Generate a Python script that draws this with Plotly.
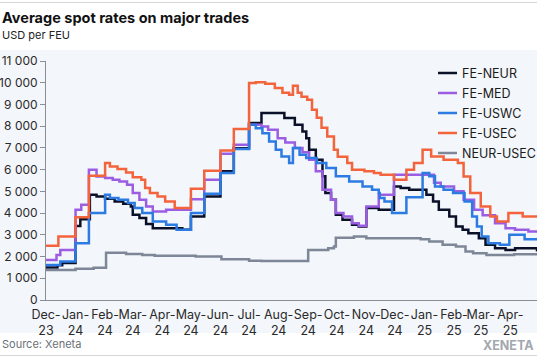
import plotly.graph_objects as go

# ---------------- data ----------------
neur_dates = ["2023-12-01", "2023-12-13", "2023-12-18", "2024-01-01", "2024-01-06", "2024-01-16", "2024-01-23",
              "2024-02-01", "2024-02-11", "2024-02-20", "2024-02-28", "2024-03-01", "2024-03-08", "2024-03-15",
              "2024-03-22", "2024-04-22", "2024-05-01", "2024-05-15", "2024-06-01", "2024-06-15", "2024-07-01",
              "2024-07-14", "2024-07-28", "2024-08-07", "2024-08-18", "2024-08-26", "2024-08-30", "2024-09-02",
              "2024-09-09", "2024-09-16", "2024-09-19", "2024-09-25", "2024-09-30", "2024-10-07", "2024-10-17",
              "2024-10-24", "2024-11-01", "2024-11-14", "2024-11-30", "2024-12-07", "2024-12-16", "2025-01-03",
              "2025-01-10", "2025-01-16", "2025-01-27", "2025-02-03", "2025-02-10", "2025-02-16", "2025-02-27",
              "2025-03-06", "2025-03-16", "2025-03-27", "2025-04-06", "2025-04-20", "2025-04-29"]
neur_vals = [1500, 1600, 1700, 3410, 3720, 4840, 4760,
             4660, 4530, 4430, 4300, 3920, 3770, 3500,
             3300, 3230, 3840, 4760, 5920, 6990, 8150,
             8610, 8610, 8380, 8070, 7760, 7450, 6920,
             6450, 5690, 4920, 4610, 3920, 3690, 3460,
             3380, 4230, 4150, 5220, 5150, 5070, 4840,
             4530, 4150, 3840, 3380, 3230, 3070, 2840,
             2540, 2380, 2300, 2380, 2380, 2230]

med_dates = ["2023-12-01", "2023-12-12", "2023-12-16", "2024-01-01", "2024-01-07", "2024-01-15", "2024-01-23",
             "2024-02-01", "2024-02-09", "2024-02-16", "2024-02-24", "2024-03-01", "2024-03-08", "2024-03-15",
             "2024-03-22", "2024-04-05", "2024-05-01", "2024-05-15", "2024-06-01", "2024-06-15", "2024-07-01",
             "2024-07-14", "2024-07-21", "2024-07-31", "2024-08-08", "2024-08-18", "2024-08-26", "2024-09-02",
             "2024-09-09", "2024-09-16", "2024-09-25", "2024-09-30", "2024-10-08", "2024-10-17", "2024-10-24",
             "2024-11-01", "2024-11-14", "2024-11-30", "2025-01-11", "2025-01-18", "2025-02-01", "2025-02-11",
             "2025-02-22", "2025-03-03", "2025-03-16", "2025-03-27", "2025-04-06", "2025-04-20", "2025-04-29"]
med_vals = [1840, 2070, 2300, 4150, 4380, 5990, 5680,
            5610, 5530, 5450, 5300, 4920, 4610, 4300,
            4070, 4150, 4640, 5530, 6730, 7145, 8070,
            7990, 7840, 7450, 7250, 7000, 6800, 6450,
            5920, 5070, 4610, 4000, 3840, 3530, 3420,
            4300, 4840, 5760, 5400, 5220, 5000, 4610,
            4150, 3900, 3530, 3300, 3230, 3150, 3150]

uswc_dates = ["2023-12-01", "2023-12-16", "2024-01-01", "2024-01-15", "2024-02-01", "2024-02-06", "2024-02-15",
              "2024-02-25", "2024-03-03", "2024-03-11", "2024-03-22", "2024-04-05", "2024-04-16", "2024-05-01",
              "2024-05-15", "2024-06-01", "2024-06-15", "2024-07-01", "2024-07-08", "2024-07-15", "2024-07-22",
              "2024-07-29", "2024-08-04", "2024-08-12", "2024-08-16", "2024-08-23", "2024-08-30", "2024-09-10",
              "2024-09-20", "2024-09-30", "2024-10-14", "2024-10-28", "2024-11-07", "2024-11-14", "2024-11-15",
              "2024-11-20", "2024-11-28", "2024-12-13", "2024-12-30", "2025-01-06", "2025-01-12", "2025-01-21",
              "2025-01-31", "2025-02-12", "2025-02-20", "2025-02-25", "2025-03-02", "2025-03-09", "2025-03-21",
              "2025-03-31", "2025-04-16", "2025-04-29"]
uswc_vals = [1610, 1770, 2610, 4000, 4840, 4690, 4610,
             4460, 4230, 4000, 3610, 3460, 3230, 4000,
             4890, 5840, 6950, 8070, 7910, 7680, 7300,
             6920, 6600, 6300, 7000, 6680, 6530, 6300,
             6070, 5690, 5450, 5220, 5070, 4920, 4690,
             4530, 4000, 4730, 5840, 5690, 5220, 5070,
             4920, 4530, 3840, 3380, 2920, 2610, 2540,
             3000, 2800, 2800]

usec_dates = ["2023-12-01", "2023-12-14", "2024-01-01", "2024-01-15", "2024-02-01", "2024-02-06", "2024-02-14",
              "2024-02-23", "2024-03-01", "2024-03-10", "2024-03-14", "2024-03-19", "2024-03-27", "2024-04-04",
              "2024-04-14", "2024-05-01", "2024-05-15", "2024-06-01", "2024-06-15", "2024-07-01", "2024-07-08",
              "2024-07-18", "2024-07-28", "2024-08-05", "2024-08-12", "2024-08-16", "2024-08-21", "2024-08-25",
              "2024-08-31", "2024-09-05", "2024-09-10", "2024-09-15", "2024-09-21", "2024-09-28", "2024-10-02",
              "2024-10-12", "2024-10-17", "2024-10-30", "2024-11-09", "2024-11-16", "2024-11-30", "2024-12-13",
              "2024-12-21", "2024-12-30", "2025-01-08", "2025-01-21", "2025-02-05", "2025-02-11", "2025-02-18",
              "2025-03-01", "2025-03-11", "2025-03-18", "2025-03-30", "2025-04-14", "2025-04-29"]
usec_vals = [2500, 2920, 3810, 5720, 6300, 6150, 6030,
             5870, 5650, 5530, 5150, 4920, 4760, 4530,
             4230, 5120, 5950, 6880, 7870, 9990, 10020,
             9950, 9760, 9540, 9450, 9860, 9540, 9360,
             9220, 8760, 8390, 7930, 7530, 6920, 6590,
             6300, 5990, 5920, 5840, 5760, 5530, 5990,
             6300, 6920, 6600, 6450, 6300, 5680, 4920,
             4300, 3840, 3610, 4000, 3840, 3840]

neurusec_dates = ["2023-12-01", "2024-01-01", "2024-01-20", "2024-02-02", "2024-02-23", "2024-03-11", "2024-03-24",
                  "2024-05-06", "2024-06-02", "2024-07-01", "2024-07-14", "2024-09-01", "2024-09-22", "2024-09-28",
                  "2024-09-30", "2024-10-19", "2024-11-01", "2024-12-28", "2025-01-06", "2025-01-20", "2025-02-03",
                  "2025-02-13", "2025-02-21", "2025-03-07", "2025-04-05", "2025-04-29"]
neurusec_vals = [1380, 1440, 1480, 2180, 2120, 2070, 2040,
                 2000, 1880, 1810, 1790, 2300, 2380, 2460,
                 2870, 2920, 2840, 2800, 2690, 2540, 2460,
                 2230, 2150, 2070, 2100, 2150]

series_names = ["FE-NEUR", "FE-MED", "FE-USWC", "FE-USEC", "NEUR-USEC"]
series_colors = ["#0b1029", "#9b5ee3", "#2b7be2", "#f4643c", "#7e8798"]

month_ticks = ["2023-12-01", "2024-01-01", "2024-02-01", "2024-03-01", "2024-04-01", "2024-05-01",
               "2024-06-01", "2024-07-01", "2024-08-01", "2024-09-01", "2024-10-01", "2024-11-01",
               "2024-12-01", "2025-01-01", "2025-02-01", "2025-03-01", "2025-04-01"]
month_labels = ["Dec-<br>23", "Jan-<br>24", "Feb-<br>24", "Mar-<br>24", "Apr-<br>24", "May-<br>24",
                "Jun-<br>24", "Jul-<br>24", "Aug-<br>24", "Sep-<br>24", "Oct-<br>24", "Nov-<br>24",
                "Dec-<br>24", "Jan-<br>25", "Feb-<br>25", "Mar-<br>25", "Apr-<br>25"]

# ---------------- figure ----------------
W, H = 537, 360
ML, MR, MT, MB = 46, 0, 61, 60
PW, PH = W - ML - MR, H - MT - MB


def px_x(px):
    return (px - ML) / PW


def px_y(py):
    return (H - MB - py) / PH


FONT = "Inter, Lato, sans-serif"

fig = go.Figure()
series = [(neur_dates, neur_vals), (med_dates, med_vals), (uswc_dates, uswc_vals),
          (usec_dates, usec_vals), (neurusec_dates, neurusec_vals)]
for (xs, ys), name, color in zip(series, series_names, series_colors):
    fig.add_trace(go.Scatter(x=xs, y=ys, mode="lines", name=name, showlegend=False,
                             line=dict(color=color, width=2.5, shape="hv")))

shapes = [
    dict(type="rect", xref="paper", yref="paper", x0=px_x(0), x1=px_x(W), y0=px_y(0), y1=px_y(50),
         fillcolor="white", line=dict(width=0), layer="below"),
    dict(type="rect", xref="paper", yref="paper", x0=px_x(0), x1=px_x(W), y0=px_y(333), y1=px_y(H),
         fillcolor="white", line=dict(width=0), layer="below"),
    dict(type="line", xref="paper", yref="paper", x0=px_x(0), x1=px_x(W), y0=px_y(2.5), y1=px_y(2.5),
         line=dict(color="#d4d6da", width=1), layer="below"),
    dict(type="line", xref="paper", yref="paper", x0=px_x(0), x1=px_x(W), y0=px_y(355.5), y1=px_y(355.5),
         line=dict(color="#d4d6da", width=1), layer="below"),
]

annotations = [
    dict(text="<b>Average spot rates on major trades</b>", xref="paper", yref="paper",
         x=px_x(0), y=px_y(18), xanchor="left", yanchor="middle", showarrow=False,
         font=dict(family=FONT, size=14.5, color="#111111")),
    dict(text="USD per FEU", xref="paper", yref="paper",
         x=px_x(0), y=px_y(35), xanchor="left", yanchor="middle", showarrow=False,
         font=dict(family=FONT, size=11, color="#222222")),
    dict(text="Source: Xeneta", xref="paper", yref="paper",
         x=px_x(0), y=px_y(344), xanchor="left", yanchor="middle", showarrow=False,
         font=dict(family=FONT, size=11, color="#6b6f78")),
    dict(text="<b>XENETA</b>", xref="paper", yref="paper",
         x=px_x(536), y=px_y(345), xanchor="right", yanchor="middle", showarrow=False,
         font=dict(family=FONT, size=12.5, color="#a3a7ae")),
]

# legend (drawn by hand to match the short line samples)
for i, (name, color) in enumerate(zip(series_names, series_colors)):
    yy = 73 + i * 20
    shapes.append(dict(type="line", xref="paper", yref="paper", x0=px_x(438), x1=px_x(457),
                       y0=px_y(yy), y1=px_y(yy), line=dict(color=color, width=2.5)))
    annotations.append(dict(text=name, xref="paper", yref="paper", x=px_x(460), y=px_y(yy),
                            xanchor="left", yanchor="middle", showarrow=False,
                            font=dict(family=FONT, size=12.5, color="#1a1a1a")))

fig.update_layout(
    width=W, height=H,
    margin=dict(l=ML, r=MR, t=MT, b=MB, pad=0),
    paper_bgcolor="#f3f6fa",
    plot_bgcolor="rgba(0,0,0,0)",
    font=dict(family=FONT, size=13, color="#333333"),
    separators=". ",
    shapes=shapes,
    annotations=annotations,
    showlegend=False,
)
fig.update_xaxes(
    type="date", range=["2023-12-01", "2025-04-29"], automargin=False,
    tickvals=month_ticks, ticktext=month_labels, ticks="", tickangle=0, ticklabelstandoff=3,
    showgrid=False, zeroline=False, showline=True, linecolor="#8a8d93", linewidth=1,
    tickfont=dict(family=FONT, size=12.5, color="#2a2a2a"),
)
fig.update_yaxes(
    range=[0, 11000], dtick=1000, tickformat=",d", automargin=False, separatethousands=True,
    ticks="outside", ticklen=5, tickcolor="#8a8d93", tickwidth=1,
    showgrid=False, zeroline=False, showline=True, linecolor="#8a8d93", linewidth=1,
    tickfont=dict(family=FONT, size=12, color="#2a2a2a"), ticklabelstandoff=0,
)

fig.write_html("out.html", config={"displayModeBar": False},
               post_script="document.body.style.margin='0';document.body.style.overflow='hidden';")
